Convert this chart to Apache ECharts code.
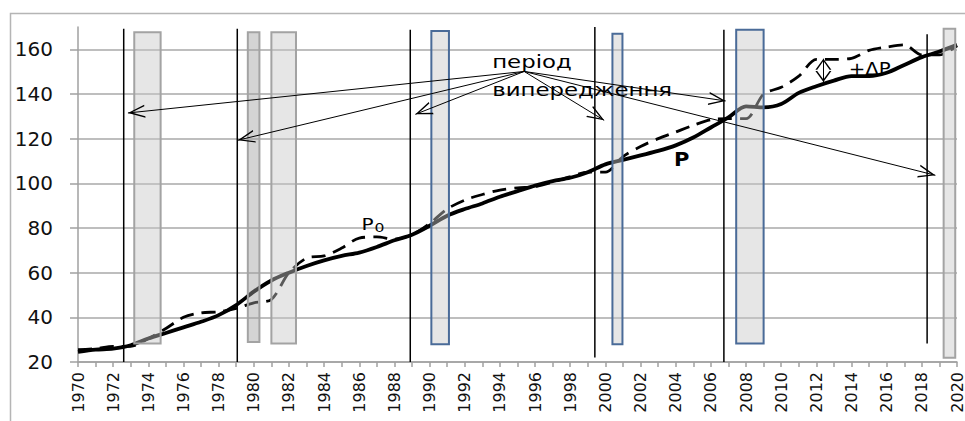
<!DOCTYPE html>
<html>
<head>
<meta charset="utf-8">
<script src="https://cdn.jsdelivr.net/npm/echarts@6/dist/echarts.min.js"></script>
<style>
  html, body { margin: 0; padding: 0; background: #fff; }
  #chart { width: 965px; height: 421px; }
</style>
</head>
<body>
<div id="chart"></div>
<script>
const years = [
    1970, 1971, 1972, 1973, 1974, 1975, 1976, 1977, 1978, 1979,
    1980, 1981, 1982, 1983, 1984, 1985, 1986, 1987, 1988, 1989,
    1990, 1991, 1992, 1993, 1994, 1995, 1996, 1997, 1998, 1999,
    2000, 2001, 2002, 2003, 2004, 2005, 2006, 2007, 2008, 2009,
    2010, 2011, 2012, 2013, 2014, 2015, 2016, 2017, 2018, 2019,
    2020
];

// P - solid line
const pValues = [
    24.5, 25.5, 26, 27.5, 30.5, 33, 35.5, 38, 41, 45.5,
    51.5, 56.5, 60, 63, 65.5, 67.5, 69, 71.5, 74.5, 77,
    81, 85.5, 88.5, 91, 94, 96.5, 99, 101, 102.5, 105,
    108.5, 110.5, 112.5, 114.5, 117, 120.5, 125, 129.5, 134.5, 134,
    135.5, 140.5, 143.5, 146, 148, 148, 149.5, 153, 156.5, 159,
    162
];

// P0 - dashed line
const p0Values = [
    25.5, 26, 27, 27, 30.5, 35, 40, 42, 42.5, 44,
    46.5, 48, 60, 66.5, 67.5, 71, 75.5, 76, 75, 77,
    82, 88.5, 92.5, 95, 97, 98, 98.5, 100.5, 103, 105,
    105, 112, 116.5, 120, 123, 126, 128.5, 129, 129, 140,
    143, 148, 155.5, 155.5, 156, 159.5, 161, 162, 157.5, 157.5,
    161.5
];

// shaded periods
const boxStart = [1973.2, 1979.66, 1981.0, 1990.1, 2000.4, 2007.44, 2019.24];
const boxEnd = [1974.7, 1980.32, 1982.4, 1991.1, 2000.97, 2009.0, 2019.9];
const boxTop = [167.7, 167.7, 167.7, 168.2, 167, 168.8, 169.2];
const boxBottom = [28.3, 29, 28.3, 27.9, 27.9, 28.3, 21.9];
const boxKind = ["grey", "dark", "grey", "blue", "blue", "blue", "grey"];

// thin vertical marker lines
const markerYear = [1972.6, 1979.06, 1988.9, 1999.4, 2006.74, 2018.3];
const markerBottom = [20, 20, 20, 22, 20, 28.3];
const markerTop = [169.2, 169.2, 168.8, 170, 168.8, 166.7];

// arrows from the "період випередження" label
const arrowFrom = [1995.38, 150.1];
const arrowToYear = [1972.84, 1979.09, 1989.19, 1999.93, 2006.84, 2018.77];
const arrowToValue = [131.5, 119.3, 130.9, 128.2, 136.9, 103.6];

// +ΔP double arrow
const deltaYear = 2012.4;
const deltaTop = 155.8;
const deltaBottom = 145.4;

// text notes
const noteText = ["період", "випередження", "P", "0", "P", "+ΔP"];
const noteYear = [1993.56, 1993.56, 1986.12, 1986.86, 2003.9, 2013.84];
const noteValue = [150.3, 137.8, 78.3, 77.2, 106.3, 147.6];

const yTicks = [20, 40, 60, 80, 100, 120, 140, 160, 170];

const noteStyle = [
    { size: 18, weight: "normal", sx: 1.27 },
    { size: 18, weight: "normal", sx: 1.27 },
    { size: 16, weight: "normal", sx: 1.25 },
    { size: 13, weight: "normal", sx: 1.2 },
    { size: 20, weight: "bold", sx: 1.05 },
    { size: 18, weight: "normal", sx: 1.1 }
];

const boxColors = {
    grey: { fill: "rgba(200,200,200,0.45)", stroke: "#a3a3a3" },
    dark: { fill: "rgba(160,160,160,0.45)", stroke: "#a3a3a3" },
    blue: { fill: "rgba(200,200,200,0.45)", stroke: "#4a6b98" }
};

const chevron = "path://M0,18 L7,0 L14,18 L12.4,18 L7,3.8 L1.6,18 Z";

// svg renderer: rotated axis labels come out right with it
const chart = echarts.init(document.getElementById("chart"), null, { renderer: "svg" });

const pData = years.map((y, i) => [y, pValues[i]]);
const p0Data = years.map((y, i) => [y, p0Values[i]]);
const boxData = boxStart.map((s, i) => [s, boxEnd[i], boxTop[i], boxBottom[i], i]);
const markerData = markerYear.map((y, i) => [y, markerBottom[i], markerTop[i]]);
const noteData = noteText.map((t, i) => [noteYear[i], noteValue[i], i]);

const arrowLines = arrowToYear.map((y, i) => [
    { coord: arrowFrom },
    { coord: [y, arrowToValue[i]] }
]);

chart.setOption({
    animation: false,
    graphic: [
        {
            type: "rect",
            silent: true,
            z: -10,
            shape: { x: 10.5, y: 13.5, width: 1200, height: 800 },
            style: { fill: "none", stroke: "#b5b5b5", lineWidth: 1.5 }
        }
    ],
    grid: {
        left: 78,
        right: 8,
        top: 27,
        bottom: 59,
        outerBoundsMode: "none"
    },
    xAxis: {
        type: "value",
        min: 1970,
        max: 2020,
        interval: 2,
        axisLine: {
            lineStyle: { color: "#a0a0a0", width: 1.5 }
        },
        axisTick: {
            length: 5,
            lineStyle: { color: "#a0a0a0", width: 1.5 }
        },
        minorTick: {
            show: true,
            splitNumber: 2,
            length: 5,
            lineStyle: { color: "#a0a0a0", width: 1.5 }
        },
        splitLine: { show: false },
        axisLabel: {
            rotate: 90,
            margin: 10,
            formatter: v => String(v),
            color: "#111",
            fontFamily: "DejaVu Sans",
            fontSize: 16
        }
    },
    yAxis: {
        type: "value",
        min: 20,
        max: 170,
        interval: 20,
        axisLine: {
            show: true,
            lineStyle: { color: "#a0a0a0", width: 1.5 }
        },
        axisTick: {
            show: true,
            length: 8,
            lineStyle: { color: "#a0a0a0", width: 1.5 }
        },
        splitLine: {
            show: true,
            lineStyle: {
                width: 1.5,
                color: yTicks.map(v => v === 170 ? "rgba(0,0,0,0)" : "#a8a8a8")
            }
        },
        axisLabel: {
            margin: 25,
            showMaxLabel: false,
            color: "#111",
            fontFamily: "DejaVu Sans",
            fontSize: 20
        }
    },
    series: [
        {
            name: "P",
            type: "line",
            z: 2,
            smooth: 0.3,
            showSymbol: false,
            data: pData,
            lineStyle: { color: "#000", width: 3.8 }
        },
        {
            name: "P0",
            type: "line",
            z: 2,
            smooth: 0.3,
            showSymbol: false,
            data: p0Data,
            lineStyle: { color: "#000", width: 2.8, type: [14, 8] }
        },
        {
            name: "periods",
            type: "custom",
            z: 3,
            silent: true,
            encode: { x: [0, 1], y: [2, 3] },
            data: boxData,
            renderItem: function (params, api) {
                const a = api.coord([api.value(0), api.value(2)]);
                const b = api.coord([api.value(1), api.value(3)]);
                const c = boxColors[boxKind[api.value(4)]];
                return {
                    type: "rect",
                    shape: { x: a[0], y: a[1], width: b[0] - a[0], height: b[1] - a[1] },
                    style: { fill: c.fill, stroke: c.stroke, lineWidth: 2 }
                };
            }
        },
        {
            name: "markers",
            type: "custom",
            z: 4,
            silent: true,
            encode: { x: 0, y: [1, 2] },
            data: markerData,
            renderItem: function (params, api) {
                const a = api.coord([api.value(0), api.value(1)]);
                const b = api.coord([api.value(0), api.value(2)]);
                return {
                    type: "line",
                    shape: { x1: a[0], y1: a[1], x2: b[0], y2: b[1] },
                    style: { stroke: "#000", lineWidth: 1.5 }
                };
            }
        },
        {
            name: "arrows",
            type: "line",
            z: 4,
            data: [],
            markLine: {
                silent: true,
                animation: false,
                symbol: ["none", chevron],
                symbolSize: [13, 17],
                symbolOffset: [[0, 0], [0, 8.5]],
                label: { show: false },
                lineStyle: { color: "#000", width: 1, type: "solid" },
                data: arrowLines
            }
        },
        {
            name: "delta",
            type: "line",
            z: 4,
            data: [],
            markLine: {
                silent: true,
                animation: false,
                symbol: [chevron, chevron],
                symbolSize: [16, 11],
                symbolOffset: [[0, 5.5], [0, 5.5]],
                label: { show: false },
                lineStyle: { color: "#000", width: 1, type: "solid" },
                data: [
                    [
                        { coord: [deltaYear, deltaTop] },
                        { coord: [deltaYear, deltaBottom] }
                    ]
                ]
            }
        },
        {
            name: "notes",
            type: "custom",
            z: 5,
            silent: true,
            encode: { x: 0, y: 1 },
            data: noteData,
            renderItem: function (params, api) {
                const p = api.coord([api.value(0), api.value(1)]);
                const i = api.value(2);
                const s = noteStyle[i];
                return {
                    type: "text",
                    x: p[0],
                    y: p[1],
                    scaleX: s.sx,
                    style: {
                        text: noteText[i],
                        x: 0,
                        y: 0,
                        fill: "#000",
                        fontFamily: "DejaVu Sans",
                        fontSize: s.size,
                        fontWeight: s.weight,
                        align: "left",
                        verticalAlign: "bottom"
                    }
                };
            }
        }
    ]
});
</script>
</body>
</html>
